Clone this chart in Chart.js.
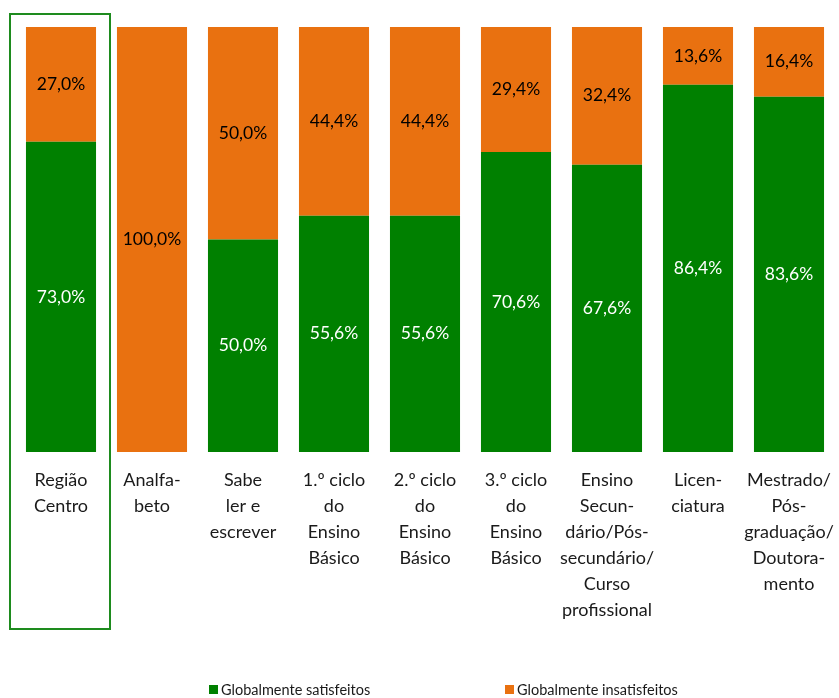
<!DOCTYPE html>
<html>
<head>
<meta charset="utf-8">
<script src="https://cdn.jsdelivr.net/npm/chart.js@4"></script>
<style>
  html, body { margin: 0; padding: 0; background: #fff; }
  #wrap { width: 839px; height: 698px; position: relative; }
</style>
</head>
<body>
<div id="wrap"><canvas id="c" width="839" height="698"></canvas></div>
<script>
const categories = [
  ["Região", "Centro"],
  ["Analfa-", "beto"],
  ["Sabe", "ler e", "escrever"],
  ["1.º ciclo", "do", "Ensino", "Básico"],
  ["2.º ciclo", "do", "Ensino", "Básico"],
  ["3.º ciclo", "do", "Ensino", "Básico"],
  ["Ensino", "Secun-", "dário/Pós-", "secundário/", "Curso", "profissional"],
  ["Licen-", "ciatura"],
  ["Mestrado/", "Pós-", "graduação/", "Doutora-", "mento"]
];
const satisfeitos = [73.0, 0, 50.0, 55.6, 55.6, 70.6, 67.6, 86.4, 83.6];
const insatisfeitos = [27.0, 100.0, 50.0, 44.4, 44.4, 29.4, 32.4, 13.6, 16.4];
const seriesNames = ["Globalmente satisfeitos", "Globalmente insatisfeitos"];

const GREEN = '#008000';
const ORANGE = '#E97110';
const FONT = 'Lato, "Open Sans", sans-serif';

const fmt = v => v.toFixed(1).replace('.', ',') + '%';

const valueLabels = {
  id: 'valueLabels',
  afterDatasetsDraw(chart) {
    const ctx = chart.ctx;
    ctx.save();
    ctx.font = '17.5px ' + FONT;
    ctx.textAlign = 'center';
    ctx.textBaseline = 'middle';
    chart.data.datasets.forEach((ds, di) => {
      const meta = chart.getDatasetMeta(di);
      meta.data.forEach((bar, i) => {
        const v = ds.data[i];
        if (!v) return;
        const p = bar.getProps(['x', 'y', 'base'], true);
        ctx.fillStyle = di === 0 ? '#ffffff' : '#000000';
        ctx.fillText(fmt(v), p.x, (p.y + p.base) / 2);
      });
    });
    ctx.restore();
  }
};

const highlightBox = {
  id: 'highlightBox',
  afterDraw(chart) {
    const xs = chart.scales.x;
    const ca = chart.chartArea;
    const cx = xs.getPixelForValue(0);
    const ctx = chart.ctx;
    ctx.save();
    ctx.strokeStyle = '#1E8B1E';
    ctx.lineWidth = 2;
    ctx.strokeRect(cx - 51, ca.top - 13, 100, ca.bottom - ca.top + 190);
    ctx.restore();
  }
};

const customLegend = {
  id: 'customLegend',
  afterDraw(chart) {
    const ctx = chart.ctx;
    const y = 690;
    const starts = [209, 505];
    ctx.save();
    ctx.font = '14.5px ' + FONT;
    ctx.textBaseline = 'middle';
    ctx.textAlign = 'left';
    chart.data.datasets.forEach((ds, i) => {
      ctx.fillStyle = ds.backgroundColor;
      ctx.fillRect(starts[i], y - 5, 9, 9);
      ctx.fillStyle = '#1a1a1a';
      ctx.fillText(ds.label, starts[i] + 12, y);
    });
    ctx.restore();
  }
};

new Chart(document.getElementById('c'), {
  type: 'bar',
  data: {
    labels: categories,
    datasets: [
      { label: seriesNames[0], data: satisfeitos, backgroundColor: GREEN },
      { label: seriesNames[1], data: insatisfeitos, backgroundColor: ORANGE }
    ]
  },
  options: {
    responsive: false,
    animation: false,
    events: [],
    layout: { padding: { left: 15.5, right: 4.5, top: 27, bottom: 46 } },
    datasets: { bar: { barPercentage: 0.77, categoryPercentage: 1.0 } },
    plugins: {
      legend: { display: false },
      tooltip: { enabled: false }
    },
    scales: {
      x: {
        stacked: true,
        grid: { display: false, drawTicks: false },
        border: { display: false },
        afterFit(scale) {
          scale.height = 200;
          scale.paddingLeft = 0;
          scale.paddingRight = 0;
        },
        ticks: {
          padding: 15,
          autoSkip: false,
          maxRotation: 0,
          color: '#1a1a1a',
          font: { family: FONT, size: 18, lineHeight: '26px' }
        }
      },
      y: {
        stacked: true,
        display: false,
        min: 0,
        max: 100
      }
    }
  },
  plugins: [valueLabels, highlightBox, customLegend]
});
</script>
</body>
</html>
